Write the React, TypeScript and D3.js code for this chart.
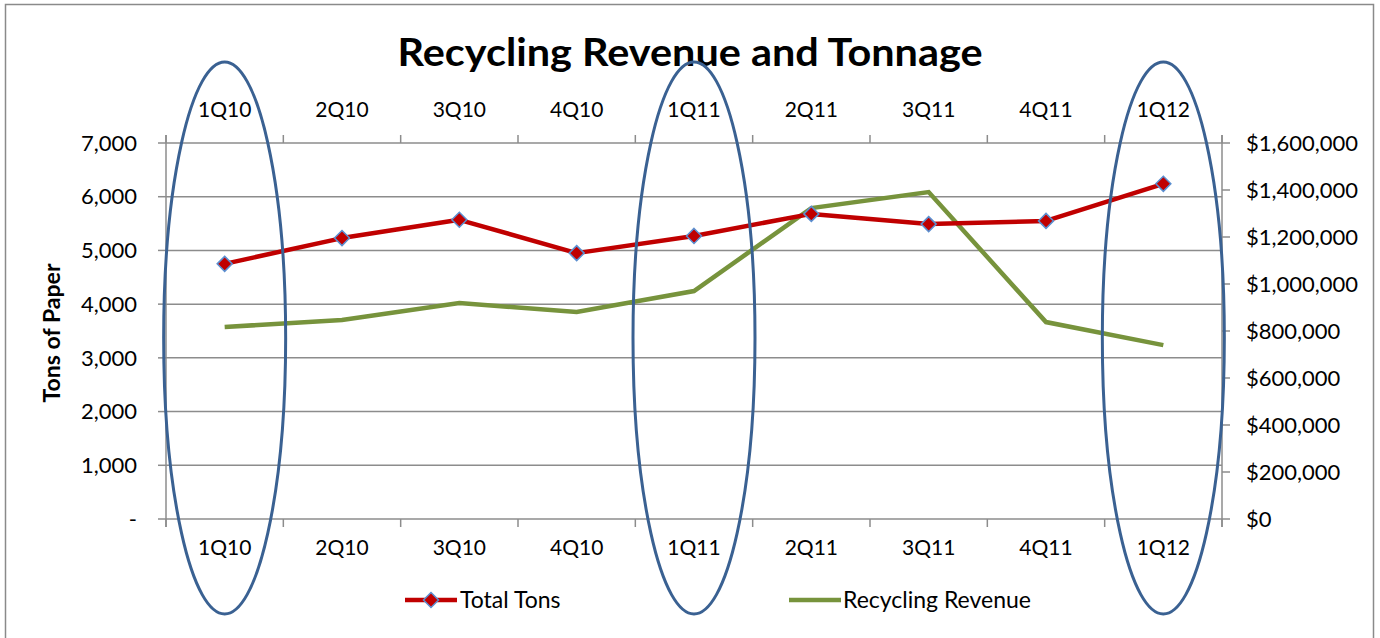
import React from "react";
import * as d3 from "d3";

const categories = ["1Q10", "2Q10", "3Q10", "4Q10", "1Q11", "2Q11", "3Q11", "4Q11", "1Q12"];
const totalTons = [4750, 5230, 5570, 4950, 5270, 5680, 5490, 5550, 6240];
const recyclingRevenue = [817000, 847000, 919000, 881000, 970000, 1323000, 1391000, 838000, 740000];
const leftTicks = [0, 1000, 2000, 3000, 4000, 5000, 6000, 7000];
const rightTicks = [0, 200000, 400000, 600000, 800000, 1000000, 1200000, 1400000, 1600000];
const highlighted = ["1Q10", "1Q11", "1Q12"];

const W = 1380;
const H = 638;
const plot = { left: 166, right: 1222, top: 143, bottom: 519 };
const FONT = "Lato, 'Open Sans', sans-serif";
const GRID = "#8c8c8c";

export default function App() {
  const x = d3.scaleBand<string>().domain(categories).range([plot.left, plot.right]).padding(0);
  const yL = d3.scaleLinear().domain([0, 7000]).range([plot.bottom, plot.top]);
  const yR = d3.scaleLinear().domain([0, 1600000]).range([plot.bottom, plot.top]);
  const cx = (c: string) => (x(c) as number) + x.bandwidth() / 2;

  const tonsLine = d3
    .line<number>()
    .x((_, i) => cx(categories[i]))
    .y((d) => yL(d))(totalTons) as string;
  const revLine = d3
    .line<number>()
    .x((_, i) => cx(categories[i]))
    .y((d) => yR(d))(recyclingRevenue) as string;

  const fmtL = (v: number) => (v === 0 ? "-" : d3.format(",")(v));
  const fmtR = (v: number) => "$" + d3.format(",")(v);

  const boundaries = d3.range(categories.length + 1).map((i) => plot.left + i * x.bandwidth());

  const diamond = (px: number, py: number, r: number) =>
    `M${px},${py - r}L${px + r},${py}L${px},${py + r}L${px - r},${py}Z`;

  return (
    <svg
      width={W}
      height={H}
      style={{ position: "absolute", left: 0, top: 0, background: "#fff" }}
      fontFamily={FONT}
    >
      <rect x={5.5} y={4.5} width={1368} height={640} fill="#fff" stroke="#8a8a8a" strokeWidth={1.5} />

      <text
        x={690}
        y={66}
        textAnchor="middle"
        fontSize={39}
        fontWeight="bold"
        fill="#000"
        textLength={585}
        lengthAdjust="spacingAndGlyphs"
      >
        Recycling Revenue and Tonnage
      </text>

      {/* gridlines */}
      {leftTicks.map((t) => (
        <line key={"g" + t} x1={plot.left} x2={plot.right} y1={yL(t)} y2={yL(t)} stroke={GRID} strokeWidth={1.5} />
      ))}
      {/* axes */}
      <line x1={plot.left} x2={plot.left} y1={plot.top - 8} y2={plot.bottom + 8} stroke={GRID} strokeWidth={1.5} />
      <line x1={plot.right} x2={plot.right} y1={plot.top - 8} y2={plot.bottom + 8} stroke={GRID} strokeWidth={1.5} />
      {leftTicks.map((t) => (
        <line key={"lt" + t} x1={plot.left - 8} x2={plot.left} y1={yL(t)} y2={yL(t)} stroke={GRID} strokeWidth={1.5} />
      ))}
      {rightTicks.map((t) => (
        <line key={"rt" + t} x1={plot.right} x2={plot.right + 8} y1={yR(t)} y2={yR(t)} stroke={GRID} strokeWidth={1.5} />
      ))}
      {boundaries.map((b, i) => (
        <g key={"b" + i}>
          <line x1={b} x2={b} y1={plot.top - 8} y2={plot.top} stroke={GRID} strokeWidth={1.5} />
          <line x1={b} x2={b} y1={plot.bottom} y2={plot.bottom + 8} stroke={GRID} strokeWidth={1.5} />
        </g>
      ))}

      {/* tick labels */}
      {leftTicks.map((t) => (
        <text key={"ll" + t} x={137} y={yL(t)} dy="0.35em" textAnchor="end" fontSize={22} fill="#000">
          {fmtL(t)}
        </text>
      ))}
      {rightTicks.map((t) => (
        <text key={"rl" + t} x={1246} y={yR(t)} dy="0.35em" textAnchor="start" fontSize={22} fill="#000">
          {fmtR(t)}
        </text>
      ))}
      {categories.map((c) => (
        <g key={"c" + c}>
          <text x={cx(c)} y={110} dy="0.35em" textAnchor="middle" fontSize={21} fill="#000">
            {c}
          </text>
          <text x={cx(c)} y={548} dy="0.35em" textAnchor="middle" fontSize={21} fill="#000">
            {c}
          </text>
        </g>
      ))}

      <text
        transform={`translate(52,${(plot.top + plot.bottom) / 2 + 2}) rotate(-90)`}
        textAnchor="middle"
        dy="0.35em"
        fontSize={22}
        fontWeight="bold"
        fill="#000"
        textLength={139}
        lengthAdjust="spacingAndGlyphs"
      >
        Tons of Paper
      </text>

      {/* series */}
      <path d={revLine} fill="none" stroke="#77933c" strokeWidth={4.5} strokeLinejoin="miter" />
      <path d={tonsLine} fill="none" stroke="#c00000" strokeWidth={4.5} strokeLinejoin="round" />
      {totalTons.map((v, i) => (
        <path
          key={"m" + i}
          d={diamond(cx(categories[i]), yL(v), 7.5)}
          fill="#c00000"
          stroke="#5b8fd0"
          strokeWidth={1.5}
        />
      ))}

      {/* highlight ellipses */}
      {highlighted.map((c) => (
        <ellipse key={"e" + c} cx={cx(c)} cy={338} rx={61} ry={276} fill="none" stroke="#3a6192" strokeWidth={3} />
      ))}

      {/* legend */}
      <line x1={405} x2={457} y1={600} y2={600} stroke="#c00000" strokeWidth={4.5} />
      <path d={diamond(431, 600, 7.5)} fill="#c00000" stroke="#5b8fd0" strokeWidth={1.5} />
      <text x={460} y={600} dy="0.35em" fontSize={23} fill="#000">
        Total Tons
      </text>
      <line x1={789} x2={841} y1={600} y2={600} stroke="#77933c" strokeWidth={4.5} />
      <text x={843} y={600} dy="0.35em" fontSize={23} fill="#000">
        Recycling Revenue
      </text>
    </svg>
  );
}
